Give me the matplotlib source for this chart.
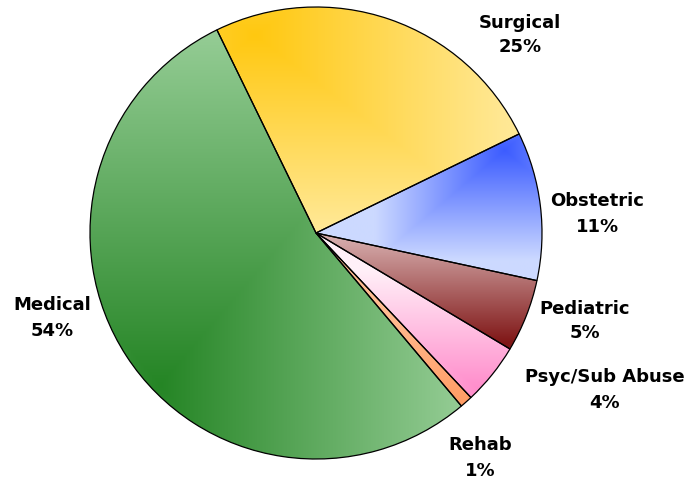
import numpy as np
import matplotlib
matplotlib.use("Agg")
import matplotlib.pyplot as plt
from matplotlib.colors import to_rgb

# data
categories = ["Surgical", "Obstetric", "Pediatric", "Psyc/Sub Abuse", "Rehab", "Medical"]
shares = [25.0, 10.6, 5.2, 4.4, 0.9, 53.9]

W, H = 696, 479
CX, CY, R = 316, 233, 226

# corner gradients: (dark colour, light colour, dark point px, spread x px, spread y px)
styles = [
    ("#ffc810", "#ffe894", (255, 35), 250, 190),
    ("#3c5cff", "#ccd9ff", (505, 150), 130, 110),
    ("#7e1414", "#d4aaaa", (505, 345), 185, 105),
    ("#ff8ccb", "#fff0f8", (480, 390), 150, 120),
    ("#ff9c64", "#ffbb90", (465, 405), 120, 90),
    ("#258525", "#94cc94", (160, 385), 300, 350),
]
label_pos = [(520, 35), (597, 214), (585, 321), (605, 390), (480, 458), (52, 318)]


def px(p):
    return ((p[0] - CX) / R, (CY - p[1]) / R)


fig = plt.figure(figsize=(W / 100, H / 100), dpi=100)
ax = fig.add_axes([0, 0, 1, 1])
x0, x1 = -CX / R, (W - CX) / R
y0, y1 = -(H - CY) / R, CY / R

wedges, _ = ax.pie(shares, startangle=116, counterclock=False, radius=1,
                   wedgeprops=dict(edgecolor="black", linewidth=0.9))

gx, gy = np.meshgrid(np.linspace(x0, x1, 700), np.linspace(y1, y0, 480))
for w, (dark, light, pd, sx, sy) in zip(wedges, styles):
    a = px(pd)
    t = np.maximum(np.abs(gx - a[0]) * R / sx, np.abs(gy - a[1]) * R / sy)
    t = np.clip(t, 0, 1)[..., None]
    img = np.array(to_rgb(dark)) * (1 - t) + np.array(to_rgb(light)) * t
    im = ax.imshow(img, extent=(x0, x1, y0, y1), zorder=0, interpolation="bilinear")
    im.set_clip_path(w)
    w.set_facecolor("none")

for name, val, p in zip(categories, shares, label_pos):
    ax.text(*px(p), f"{name}\n{round(val)}%", ha="center", va="center",
            fontsize=13, fontweight="bold", linespacing=1.5)

ax.set_xlim(x0, x1)
ax.set_ylim(y0, y1)
ax.set_aspect("auto")
ax.axis("off")
fig.savefig("out.png", dpi=100)
